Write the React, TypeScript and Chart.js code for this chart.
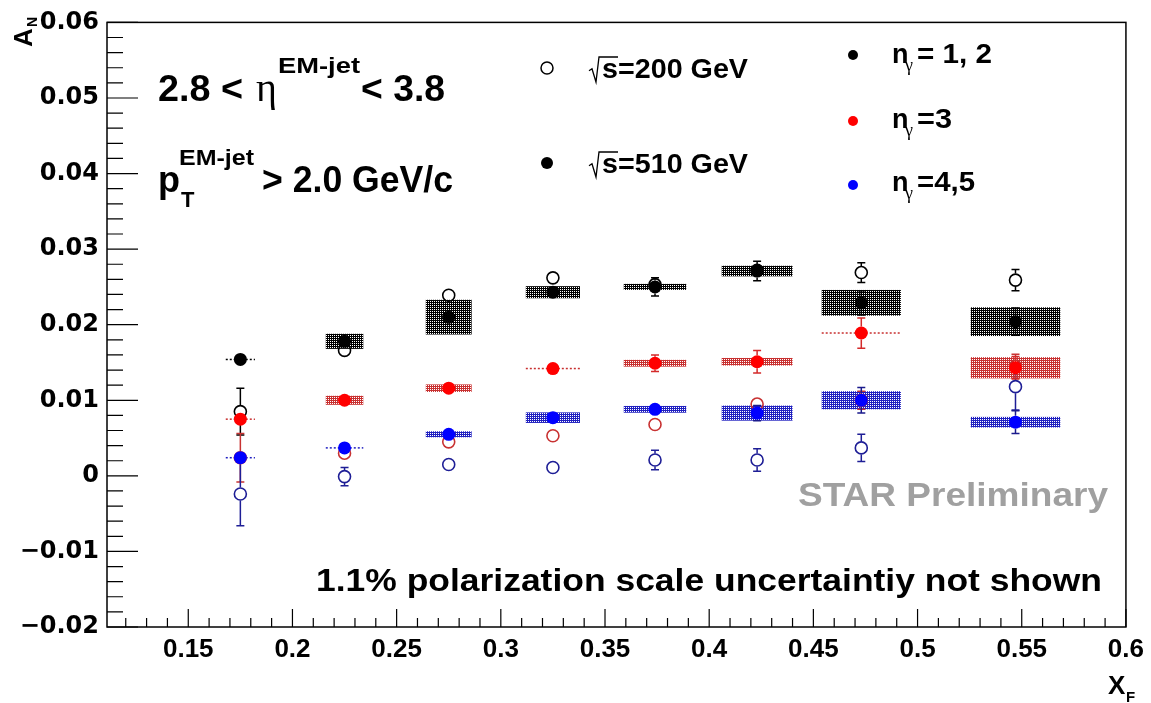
import React, { useEffect, useRef } from "react";
import { Chart, registerables } from "chart.js";

Chart.register(...registerables);

// ---------------- data ----------------
const xF = [0.175, 0.225, 0.275, 0.325, 0.374, 0.423, 0.473, 0.547];
const xHalfWidth = [0.007, 0.009, 0.011, 0.013, 0.015, 0.017, 0.019, 0.0215];

// sqrt(s) = 510 GeV (filled markers, with systematic boxes)
const an510_n12 = [0.0154, 0.0178, 0.021, 0.0243, 0.025, 0.0271, 0.0229, 0.0204];
const stat510_n12 = [0.0003, 0.0003, 0.0003, 0.0003, 0.0012, 0.0013, 0.0016, 0.0018];
const sys510_n12 = [0, 0.001, 0.0023, 0.0008, 0.0004, 0.0007, 0.0017, 0.0019];

const an510_n3 = [0.0075, 0.01, 0.0116, 0.0142, 0.0149, 0.0151, 0.0189, 0.0143];
const stat510_n3 = [0.0003, 0.0003, 0.0003, 0.0003, 0.0011, 0.0015, 0.002, 0.0015];
const sys510_n3 = [0, 0.0006, 0.0005, 0, 0.00045, 0.0005, 0, 0.0014];

const an510_n45 = [0.0024, 0.0037, 0.0055, 0.0077, 0.0088, 0.0083, 0.01, 0.0071];
const stat510_n45 = [0.0003, 0.0003, 0.0003, 0.0003, 0.0004, 0.001, 0.0017, 0.0015];
const sys510_n45 = [0, 0, 0.0004, 0.0007, 0.00045, 0.001, 0.0012, 0.0007];

// sqrt(s) = 200 GeV (open markers)
const an200_n12 = [0.0085, 0.0166, 0.0239, 0.0262, 0.0253, 0.0272, 0.0269, 0.0259];
const stat200_n12 = [0.0031, 0.0006, 0.0004, 0.0004, 0.0008, 0.0008, 0.0013, 0.0014];

const an200_n3 = [0.0024, 0.003, 0.0045, 0.0053, 0.0068, 0.0095, 0.01, 0.0145];
const stat200_n3 = [0.0032, 0.0005, 0.0005, 0.0005, 0.0006, 0.0008, 0.0012, 0.0016];

const an200_n45 = [-0.0024, -0.0001, 0.0015, 0.0011, 0.0021, 0.0021, 0.0037, 0.0118];
const stat200_n45 = [0.0042, 0.0012, 0.0008, 0.0008, 0.0013, 0.0015, 0.0018, 0.0031];

const X_MIN = 0.111;
const X_MAX = 0.6;
const Y_MIN = -0.02;
const Y_MAX = 0.06;
const X_TICKS = [0.15, 0.2, 0.25, 0.3, 0.35, 0.4, 0.45, 0.5, 0.55, 0.6];
const Y_TICKS = [-0.02, -0.01, 0, 0.01, 0.02, 0.03, 0.04, 0.05, 0.06];

type Series = {
  y: number[];
  stat: number[];
  sys: number[] | null;
  color: string;
  boxColor: string;
  errColor: string;
  filled: boolean;
};

const SERIES: Series[] = [
  { y: an510_n12, stat: stat510_n12, sys: sys510_n12, color: "#000000", boxColor: "#000000", errColor: "#000000", filled: true },
  { y: an510_n3, stat: stat510_n3, sys: sys510_n3, color: "#ff0000", boxColor: "#c83030", errColor: "#d42a2a", filled: true },
  { y: an510_n45, stat: stat510_n45, sys: sys510_n45, color: "#0000ff", boxColor: "#2020c0", errColor: "#1a1a8c", filled: true },
  { y: an200_n12, stat: stat200_n12, sys: null, color: "#000000", boxColor: "#000000", errColor: "#000000", filled: false },
  { y: an200_n3, stat: stat200_n3, sys: null, color: "#c83232", boxColor: "#c83232", errColor: "#c83232", filled: false },
  { y: an200_n45, stat: stat200_n45, sys: null, color: "#1e1e96", boxColor: "#1e1e96", errColor: "#1e1e96", filled: false },
];

const R = 6.5;

const F = (size: number, weight = "bold", fam = "'Liberation Sans', Arial, sans-serif") =>
  `${weight} ${size}px ${fam}`;

function makePattern(ctx: CanvasRenderingContext2D, color: string) {
  const c = document.createElement("canvas");
  c.width = 2;
  c.height = 2;
  const g = c.getContext("2d")!;
  g.fillStyle = color;
  g.fillRect(0, 0, 1, 1);
  g.fillRect(1, 1, 1, 1);
  g.fillRect(1, 0, 1, 1);
  return ctx.createPattern(c, "repeat")!;
}

function txt(
  ctx: CanvasRenderingContext2D,
  s: string,
  x: number,
  y: number,
  font: string,
  width?: number,
  align: "left" | "right" = "left",
  color = "#000"
) {
  ctx.save();
  ctx.font = font;
  ctx.fillStyle = color;
  ctx.textAlign = "left";
  ctx.textBaseline = "alphabetic";
  const w = ctx.measureText(s).width;
  const sx = width ? width / w : 1;
  const x0 = align === "right" ? x - w * sx : x;
  ctx.translate(x0, y);
  ctx.scale(sx, 1);
  ctx.fillText(s, 0, 0);
  ctx.restore();
}

function sqrtSign(ctx: CanvasRenderingContext2D, x: number, top: number, bottom: number, endX: number) {
  ctx.save();
  ctx.strokeStyle = "#000";
  ctx.lineWidth = 1.3;
  ctx.beginPath();
  const mid = top + (bottom - top) * 0.55;
  ctx.moveTo(x, mid);
  ctx.lineTo(x + 3, mid - 2);
  ctx.lineTo(x + 7, bottom);
  ctx.lineTo(x + 10, top);
  ctx.lineTo(endX, top);
  ctx.stroke();
  ctx.restore();
}

function dot(ctx: CanvasRenderingContext2D, x: number, y: number, r: number, color: string, filled: boolean) {
  ctx.save();
  ctx.beginPath();
  ctx.arc(x, y, r, 0, Math.PI * 2);
  if (filled) {
    ctx.fillStyle = color;
    ctx.fill();
  } else {
    ctx.strokeStyle = color;
    ctx.lineWidth = 1.5;
    ctx.stroke();
  }
  ctx.restore();
}

const rootPlugin = {
  id: "rootStyle",
  beforeDatasetsDraw(chart: any) {
    const ctx: CanvasRenderingContext2D = chart.ctx;
    const xs = chart.scales.x;
    const ys = chart.scales.y;
    ctx.save();
    // systematic boxes
    SERIES.forEach((s) => {
      if (!s.sys) return;
      const pat = makePattern(ctx, s.boxColor);
      xF.forEach((x, i) => {
        const xl = xs.getPixelForValue(x - xHalfWidth[i]);
        const xr = xs.getPixelForValue(x + xHalfWidth[i]);
        const sy = s.sys![i];
        if (sy > 0) {
          const yt = ys.getPixelForValue(s.y[i] + sy);
          const yb = ys.getPixelForValue(s.y[i] - sy);
          ctx.fillStyle = pat;
          ctx.fillRect(xl, yt, xr - xl, yb - yt);
        } else {
          const yc = ys.getPixelForValue(s.y[i]);
          ctx.save();
          ctx.strokeStyle = s.boxColor;
          ctx.lineWidth = 1.5;
          ctx.setLineDash([2, 2]);
          ctx.beginPath();
          ctx.moveTo(xl, yc);
          ctx.lineTo(xr, yc);
          ctx.stroke();
          ctx.restore();
        }
      });
    });
    // stat error bars (open first, then filled)
    [3, 4, 5, 0, 1, 2].forEach((k) => {
      const s = SERIES[k];
      ctx.strokeStyle = s.errColor;
      ctx.lineWidth = 1.5;
      xF.forEach((x, i) => {
        const px = xs.getPixelForValue(x);
        const yc = ys.getPixelForValue(s.y[i]);
        const yt = ys.getPixelForValue(s.y[i] + s.stat[i]);
        const yb = ys.getPixelForValue(s.y[i] - s.stat[i]);
        if (yc - yt <= R) return;
        ctx.beginPath();
        ctx.moveTo(px, yt);
        ctx.lineTo(px, yc - R);
        ctx.moveTo(px, yc + R);
        ctx.lineTo(px, yb);
        ctx.moveTo(px - 4, yt);
        ctx.lineTo(px + 4, yt);
        ctx.moveTo(px - 4, yb);
        ctx.lineTo(px + 4, yb);
        ctx.stroke();
      });
    });
    ctx.restore();
  },
  afterDatasetsDraw(chart: any) {
    const ctx: CanvasRenderingContext2D = chart.ctx;
    const xs = chart.scales.x;
    const ys = chart.scales.y;
    const { left, right, top, bottom } = chart.chartArea;
    ctx.save();
    // frame
    ctx.strokeStyle = "#000";
    ctx.lineWidth = 1.5;
    ctx.strokeRect(left, top, right - left, bottom - top);
    // y ticks
    ctx.lineWidth = 1.2;
    ctx.beginPath();
    for (let i = -10; i <= 30; i++) {
      const py = ys.getPixelForValue(i * 0.002);
      const len = i % 5 === 0 ? 31 : 16;
      ctx.moveTo(left, py);
      ctx.lineTo(left + len, py);
    }
    // x ticks
    for (let i = 12; i <= 60; i++) {
      const px = xs.getPixelForValue(i / 100);
      const len = i % 5 === 0 ? 18 : 9;
      ctx.moveTo(px, bottom);
      ctx.lineTo(px, bottom - len);
    }
    ctx.stroke();

    // axis titles
    ctx.save();
    ctx.translate(32, 47);
    ctx.rotate(-Math.PI / 2);
    ctx.font = F(26);
    ctx.fillStyle = "#000";
    ctx.fillText("A", 0, 0);
    ctx.font = F(14);
    ctx.fillText("N", 20, 5);
    ctx.restore();
    txt(ctx, "X", 1108, 694, F(26));
    txt(ctx, "F", 1126, 702, F(15));

    // kinematic labels
    txt(ctx, "2.8 <", 158, 101, F(36), 85);
    txt(ctx, "\u03B7", 256, 101, "normal 40px 'Liberation Serif', serif");
    txt(ctx, "EM-jet", 278, 73, F(22), 82);
    txt(ctx, "< 3.8", 361, 101, F(36), 84);

    txt(ctx, "p", 158, 192, F(36));
    txt(ctx, "EM-jet", 179, 165, F(22), 75);
    txt(ctx, "T", 181, 207, F(22));
    txt(ctx, "> 2.0 GeV/c", 262, 192, F(36), 191);

    // energy legend
    dot(ctx, 547, 68, 6, "#000", false);
    sqrtSign(ctx, 589, 57, 82, 618);
    txt(ctx, "s=200 GeV", 602, 78, F(27), 146);
    dot(ctx, 547, 163, 6, "#000", true);
    sqrtSign(ctx, 589, 152, 177, 618);
    txt(ctx, "s=510 GeV", 602, 173, F(27), 146);

    // photon multiplicity legend
    const ng = [
      { c: "#000000", y: 55, b: 63, rest: "= 1, 2", w: 75 },
      { c: "#ff0000", y: 121, b: 128, rest: "=3", w: 35 },
      { c: "#0000ff", y: 185, b: 191, rest: "=4,5", w: 58 },
    ];
    ng.forEach((g) => {
      dot(ctx, 853, g.y, 5, g.c, true);
      txt(ctx, "n", 892, g.b, F(27));
      txt(ctx, "\u03B3", 905, g.b + 8, "normal 18px 'Liberation Serif', serif");
      txt(ctx, g.rest, 917, g.b, F(27), g.w);
    });

    // STAR label and note
    txt(ctx, "STAR Preliminary", 1108, 506, F(34), 310, "right", "#a0a0a0");
    txt(ctx, "1.1% polarization scale uncertaintiy not shown", 316, 591, F(32), 786);

    ctx.restore();
  },
};

const fmtY = (v: number) => (Math.abs(v) < 1e-9 ? "0" : (v < 0 ? "\u2212" : "") + Math.abs(v).toFixed(2));
const fmtX = (v: number) => String(parseFloat(v.toFixed(2)));

export default function App() {
  const ref = useRef<HTMLCanvasElement>(null);
  useEffect(() => {
    const canvas = ref.current!;
    const datasets = SERIES.map((s) => ({
      data: xF.map((x, i) => ({ x, y: s.y[i] })),
      pointStyle: "circle",
      pointRadius: s.filled ? R : 6,
      pointBackgroundColor: s.filled ? s.color : "rgba(0,0,0,0)",
      pointBorderColor: s.color,
      pointBorderWidth: s.filled ? 0 : 1.6,
      showLine: false,
    }));
    const chart = new Chart(canvas, {
      type: "scatter",
      data: { datasets } as any,
      options: {
        responsive: false,
        animation: false,
        devicePixelRatio: 1,
        layout: { padding: { left: 0, top: 18, right: 18, bottom: 0 } },
        plugins: { legend: { display: false }, tooltip: { enabled: false } },
        scales: {
          x: {
            type: "linear",
            min: X_MIN,
            max: X_MAX,
            afterFit: (s: any) => {
              s.height = 76;
            },
            afterBuildTicks: (s: any) => {
              s.ticks = X_TICKS.map((v) => ({ value: v }));
            },
            grid: { display: false, drawTicks: false },
            border: { display: false },
            ticks: {
              autoSkip: false,
              maxRotation: 0,
              padding: 7,
              color: "#000",
              font: { family: "'Liberation Sans', Arial, sans-serif", weight: "bold", size: 26 },
              callback: (v: any) => fmtX(Number(v)),
            },
          },
          y: {
            type: "linear",
            min: Y_MIN,
            max: Y_MAX,
            afterFit: (s: any) => {
              s.width = 107;
            },
            afterBuildTicks: (s: any) => {
              s.ticks = Y_TICKS.map((v) => ({ value: v }));
            },
            grid: { display: false, drawTicks: false },
            border: { display: false },
            ticks: {
              autoSkip: false,
              padding: 8,
              color: "#000",
              font: { family: "'DejaVu Sans', sans-serif", weight: "bold", size: 24 },
              callback: (v: any) => fmtY(Number(v)),
            },
          },
        },
      } as any,
      plugins: [rootPlugin as any],
    });
    return () => chart.destroy();
  }, []);
  return (
    <div style={{ position: "absolute", left: 0, top: 0, width: 1151, height: 703, background: "#fff" }}>
      <canvas ref={ref} width={1151} height={703} style={{ display: "block" }} />
    </div>
  );
}
